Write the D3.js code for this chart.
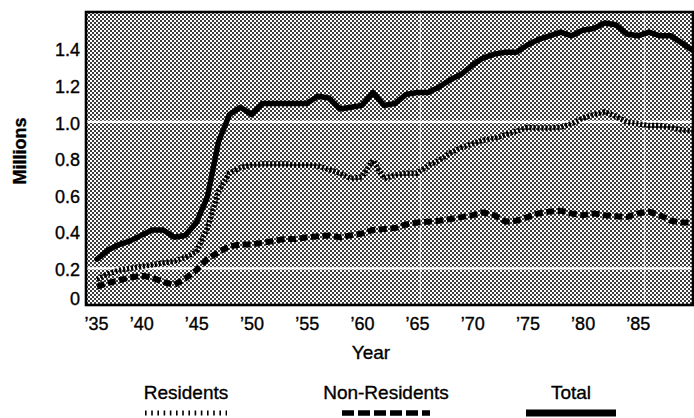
<!DOCTYPE html>
<html>
<head>
<meta charset="utf-8">
<script src="https://cdn.jsdelivr.net/npm/d3@7"></script>
<style>
  html, body { margin: 0; padding: 0; background: #fff; }
  svg { display: block; }
  text { font-family: "Liberation Sans", Arial, Helvetica, sans-serif; fill: #000; stroke: #000; stroke-width: 0.35px; }
</style>
</head>
<body>
<svg id="chart" width="694" height="418"></svg>
<script>
// ---- data (millions of visitors) ----
const years = [1936,1937,1938,1939,1940,1941,1942,1943,1944,1945,
               1946,1947,1948,1949,1950,1951,1952,1953,1954,1955,
               1956,1957,1958,1959,1960,1961,1962,1963,1964,1965,
               1966,1967,1968,1969,1970,1971,1972,1973,1974,1975,
               1976,1977,1978,1979,1980,1981,1982,1983,1984,1985,
               1986,1987,1988,1989,1990];

const residents = [0.14,0.17,0.19,0.20,0.21,0.22,0.23,0.24,0.26,0.29,
                   0.42,0.62,0.72,0.75,0.765,0.77,0.77,0.77,0.765,0.765,
                   0.76,0.74,0.72,0.69,0.70,0.79,0.69,0.71,0.72,0.72,
                   0.76,0.79,0.83,0.86,0.88,0.90,0.91,0.93,0.95,0.97,
                   0.966,0.966,0.97,0.99,1.02,1.04,1.055,1.03,1.00,0.99,
                   0.98,0.98,0.97,0.955,0.95];

const nonResidents = [0.10,0.12,0.135,0.15,0.16,0.15,0.125,0.11,0.145,0.19,
                      0.25,0.29,0.32,0.33,0.33,0.34,0.35,0.36,0.36,0.37,
                      0.375,0.38,0.37,0.38,0.39,0.41,0.415,0.42,0.44,0.45,
                      0.455,0.46,0.47,0.48,0.49,0.505,0.49,0.455,0.46,0.48,
                      0.50,0.51,0.515,0.50,0.49,0.50,0.49,0.485,0.48,0.50,
                      0.51,0.49,0.46,0.45,0.45];

const total = [0.25,0.30,0.33,0.35,0.38,0.41,0.41,0.37,0.38,0.45,
               0.59,0.89,1.04,1.08,1.04,1.10,1.10,1.10,1.10,1.10,
               1.14,1.13,1.07,1.08,1.09,1.16,1.09,1.10,1.15,1.16,
               1.16,1.19,1.23,1.26,1.31,1.35,1.37,1.38,1.38,1.42,
               1.45,1.47,1.49,1.47,1.50,1.51,1.54,1.53,1.48,1.47,
               1.49,1.47,1.47,1.43,1.39];

const xTicks = [1935,1940,1945,1950,1955,1960,1965,1970,1975,1980,1985];
const yTicks = [0,0.2,0.4,0.6,0.8,1.0,1.2,1.4];
const whiteGridY = [0.2,1.0];
const whiteGridX = [1965.3,1985.6];
const seriesNames = ["Residents","Non-Residents","Total"];

// ---- layout ----
const svg = d3.select("#chart");
const x = d3.scaleLinear().domain([1935,1990]).range([86,693]);
const y = d3.scaleLinear().domain([0,1.6]).range([305,12]);

const defs = svg.append("defs");
const pat = defs.append("pattern").attr("id","halftone")
  .attr("patternUnits","userSpaceOnUse").attr("width",4).attr("height",4);
pat.append("rect").attr("width",4).attr("height",4).attr("fill","#ffffff");
pat.append("rect").attr("x",0).attr("y",0).attr("width",2).attr("height",2).attr("fill","#3c3c3c");
pat.append("rect").attr("x",2).attr("y",2).attr("width",2).attr("height",2).attr("fill","#3c3c3c");

defs.append("clipPath").attr("id","plotclip").append("rect")
  .attr("x",x(1935)).attr("y",y(1.6)).attr("width",x(1990)-x(1935)).attr("height",y(0)-y(1.6));

// background
svg.append("rect")
  .attr("x",x(1935)).attr("y",y(1.6))
  .attr("width",x(1990)-x(1935)).attr("height",y(0)-y(1.6))
  .attr("fill","url(#halftone)");

// white grid lines
svg.append("g").selectAll("line").data(whiteGridY).join("line")
  .attr("x1",x(1935)).attr("x2",x(1990))
  .attr("y1",d=>y(d)).attr("y2",d=>y(d))
  .attr("stroke","#fff").attr("stroke-width",2.2);
svg.append("g").selectAll("line").data(whiteGridX).join("line")
  .attr("x1",d=>x(d)).attr("x2",d=>x(d))
  .attr("y1",y(1.6)).attr("y2",y(0))
  .attr("stroke","#fff").attr("stroke-width",1.2).attr("stroke-opacity",0.7);

// series
const mk = vals => years.map((yr,i)=>({year:yr, v:vals[i]}));
const line = d3.line().x(d=>x(d.year)).y(d=>y(d.v));
const styles = {
  "Residents":     {data: residents,    width: 5.5, dash: "2.2,1.8", cap: "butt"},
  "Non-Residents": {data: nonResidents, width: 6,   dash: "8,3.5",   cap: "butt"},
  "Total":         {data: total,        width: 5.5, dash: null,      cap: "round"}
};
const plot = svg.append("g").attr("clip-path","url(#plotclip)");
seriesNames.forEach(name=>{
  const s = styles[name];
  plot.append("path").datum(mk(s.data))
    .attr("d",line)
    .attr("fill","none").attr("stroke","#000")
    .attr("stroke-width",s.width)
    .attr("stroke-linejoin","round")
    .attr("stroke-linecap",s.cap)
    .attr("stroke-dasharray",s.dash);
});

// border
svg.append("rect")
  .attr("x",x(1935)).attr("y",y(1.6))
  .attr("width",x(1990)-x(1935)).attr("height",y(0)-y(1.6))
  .attr("fill","none").attr("stroke","#000").attr("stroke-width",2.6);

// x axis labels
const xAxis = d3.axisBottom(x).tickValues(xTicks).tickSize(0).tickPadding(0)
  .tickFormat(d=>"\u2019"+String(d).slice(2));
const gx = svg.append("g").attr("transform",`translate(0,${y(0)})`).call(xAxis);
gx.select(".domain").remove();
gx.selectAll("text")
  .attr("y",25).attr("dy",0)
  .style("font-size","18px").style("font-family",null)
  .attr("text-anchor",d=>d===1935?"start":"middle")
  .attr("dx",d=>d===1935?-2:0);

// y axis labels
const yAxis = d3.axisLeft(y).tickValues(yTicks).tickSize(0).tickPadding(6)
  .tickFormat(d=>d===0?"0":d.toFixed(1));
const gy = svg.append("g").attr("transform",`translate(${x(1935)},0)`).call(yAxis);
gy.select(".domain").remove();
gy.selectAll("text")
  .style("font-size","18px").style("font-family",null)
  .attr("dy",d=>d===0?"-0.05em":"0.4em");

// axis titles
svg.append("text").attr("x",371).attr("y",359).attr("text-anchor","middle")
  .style("font-size","19px").text("Year");
svg.append("text").attr("transform","translate(26,151) rotate(-90)")
  .attr("text-anchor","middle").style("font-size","18px").style("font-weight","bold")
  .text("Millions");

// legend
const legendCenters = [186,386,571];
const legendWidths = [82,88,90];
const lg = svg.append("g");
seriesNames.forEach((name,i)=>{
  lg.append("text").attr("x",legendCenters[i]).attr("y",399)
    .attr("text-anchor","middle").style("font-size","19px").text(name);
  lg.append("line")
    .attr("x1",legendCenters[i]-legendWidths[i]/2).attr("x2",legendCenters[i]+legendWidths[i]/2)
    .attr("y1",413).attr("y2",413)
    .attr("stroke","#000")
    .attr("stroke-width",name==="Total"?7:(name==="Residents"?5:5.5))
    .attr("stroke-dasharray",name==="Residents"?"1.6,4.6":(name==="Non-Residents"?"12,4":null));
});
</script>
</body>
</html>
